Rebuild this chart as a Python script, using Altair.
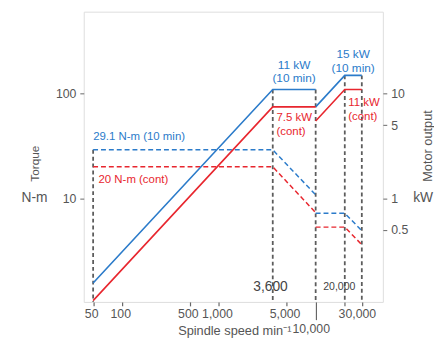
import altair as alt
import pandas as pd

# ---- data ----
speeds_low = [50, 3600, 10000]
speeds_high = [10000, 20000, 30000]

torque_10min_low = [29.1, 29.1, 10.8]
torque_10min_high = [7.2, 7.2, 4.9]
torque_cont_low = [20, 20, 7.3]
torque_cont_high = [5.3, 5.3, 3.6]

power_10min_low = [0.155, 11, 11]
power_10min_high = [7.5, 15, 15]
power_cont_low = [0.105, 7.5, 7.5]
power_cont_high = [5.5, 11, 11]

guide_speeds = [50, 3600, 10000, 20000, 30000]
guide_tops = [29.1, 110, 110, 150, 150]

x_tick_values = [50, 100, 500, 1000, 5000, 10000, 20000, 30000]
torque_ticks = [10, 100]
power_ticks = [0.5, 1, 5, 10]

# annotations (speed, torque-scale position, text, rating)
ann_center_speed = [5980, 5980, 24400, 24400]
ann_center_val = [190, 140.6, 241, 178]
ann_center_text = ["11 kW", "(10 min)", "15 kW", "(10 min)"]
ann_center_rating = ["10 min", "10 min", "10 min", "10 min"]

ann_left_speed = [3930, 3930, 21700, 21700, 50, 56.8]
ann_left_val = [59, 42.7, 81.7, 60.4, 38.3, 15.1]
ann_left_text = ["7.5 kW", "(cont)", "11 kW", "(cont)", "29.1 N-m (10 min)", "20 N-m (cont)"]
ann_left_rating = ["cont", "cont", "cont", "cont", "10 min", "cont"]

BLUE = "#2b7bca"
RED = "#e8262e"
BLUE_T = "#3a86cf"
RED_T = "#e8404f"
GRAY = "#555555"
FONT = "Liberation Sans"


def rows(speeds, vals, rating, seg):
    return [{"speed": s, "value": v, "rating": rating, "seg": seg} for s, v in zip(speeds, vals)]


torque_df = pd.DataFrame(
    rows(speeds_low, torque_10min_low, "10 min", "a")
    + rows(speeds_high, torque_10min_high, "10 min", "b")
    + rows(speeds_low, torque_cont_low, "cont", "a")
    + rows(speeds_high, torque_cont_high, "cont", "b")
)
power_df = pd.DataFrame(
    rows(speeds_low, power_10min_low, "10 min", "a")
    + rows(speeds_high, power_10min_high, "10 min", "b")
    + rows(speeds_low, power_cont_low, "cont", "a")
    + rows(speeds_high, power_cont_high, "cont", "b")
)
guide_df = pd.DataFrame({"speed": guide_speeds, "top": guide_tops, "bottom": [1.02] * len(guide_speeds)})
center_df = pd.DataFrame({"speed": ann_center_speed, "value": ann_center_val,
                          "text": ann_center_text, "rating": ann_center_rating})
left_df = pd.DataFrame({"speed": ann_left_speed, "value": ann_left_val,
                        "text": ann_left_text, "rating": ann_left_rating})
mark_df = pd.DataFrame({"speed": [3410, 17540], "value": [1.42, 1.42], "text": ["3,600", "20,000"],
                        "size": [14, 10.7]})
unit_df = pd.DataFrame({"value": [10], "left": ["N-m"], "right": ["kW"]})

x_scale = alt.Scale(type="log", domain=[40, 49500])
left_scale = alt.Scale(type="log", domain=[1.02, 610])
right_scale = alt.Scale(type="log", domain=[0.102, 61])
color_scale = alt.Scale(domain=["10 min", "cont"], range=[BLUE, RED])
text_color_scale = alt.Scale(domain=["10 min", "cont"], range=[BLUE_T, RED_T])

x_axis = alt.Axis(
    values=x_tick_values,
    labelExpr="datum.value == 20000 ? '' : format(datum.value, ',')",
    grid=False, domain=False,
    tickSize={"condition": {"test": "datum.value == 10000", "value": 18},
              "value": 4},
    labelPadding={"condition": {"test": "datum.value == 10000", "value": 3}, "value": 2},
    labelOffset={"condition": {"test": "datum.value >= 10000", "value": -5}, "value": -2},
    tickColor="#666", tickWidth=1.2,
    labelColor=GRAY, labelFontSize=12.5, labelFont=FONT,
    title="Spindle speed min⁻¹", titleFont=FONT, titleFontSize=13, titleFontWeight="normal",
    titleColor=GRAY, titleX=153, titleY=29, titleAlign="center", titleBaseline="middle",
)
left_axis = alt.Axis(
    values=torque_ticks, format="~g", grid=False, domain=False, tickSize=4,
    tickColor="#666", labelColor=GRAY, labelFontSize=12.5, labelFont=FONT, labelPadding=4,
    title="Torque", titleFont=FONT, titleFontSize=12, titleFontWeight="normal", titleColor=GRAY,
    titleAngle=270, titleX=-50, titleY=154, titleAlign="center", titleBaseline="middle",
)
right_axis = alt.Axis(
    orient="right", values=power_ticks, format="~g", grid=False, domain=False, tickSize=4,
    tickColor="#666", labelColor=GRAY, labelFontSize=12.5, labelFont=FONT, labelPadding=4,
    title="Motor output", titleFont=FONT, titleFontSize=13, titleFontWeight="normal", titleColor=GRAY,
    titleAngle=270, titleX=45, titleY=136, titleAlign="center", titleBaseline="middle",
)


def X():
    return alt.X("speed:Q", scale=x_scale, axis=x_axis)


def YL(field="value"):
    return alt.Y(f"{field}:Q", scale=left_scale, axis=left_axis)


torque_lines = alt.Chart(torque_df).mark_line(strokeDash=[5, 3], strokeWidth=1.5).encode(
    x=X(), y=YL(), color=alt.Color("rating:N", scale=color_scale, legend=None), detail="seg:N"
)
guides = alt.Chart(guide_df).mark_rule(color="#5c5c5c", strokeDash=[4, 3], strokeWidth=1.8).encode(
    x=X(), y=YL("top"), y2="bottom:Q"
)
center_text = alt.Chart(center_df).mark_text(font=FONT, fontSize=12, align="center", baseline="middle").encode(
    x=X(), y=YL(), text="text:N", color=alt.Color("rating:N", scale=text_color_scale, legend=None)
)
left_text = alt.Chart(left_df).mark_text(font=FONT, fontSize=11.6, align="left", baseline="middle").encode(
    x=X(), y=YL(), text="text:N", color=alt.Color("rating:N", scale=text_color_scale, legend=None)
)
mark_text = alt.Chart(mark_df).mark_text(font=FONT, align="center", baseline="middle", color="#444").encode(
    x=X(), y=YL(), text="text:N", size=alt.Size("size:Q", scale=None, legend=None)
)
unit_left = alt.Chart(unit_df).mark_text(font=FONT, fontSize=14, color=GRAY, align="center",
                                         baseline="middle").encode(
    x=alt.value(-50), y=YL(), text="left:N"
)
unit_right = alt.Chart(unit_df).mark_text(font=FONT, fontSize=14, color=GRAY, align="center",
                                          baseline="middle").encode(
    x=alt.value(345), y=YL(), text="right:N"
)

left_group = alt.layer(guides, torque_lines, center_text, left_text, mark_text, unit_left, unit_right)

power_lines = alt.Chart(power_df).mark_line(strokeWidth=1.6).encode(
    x=X(),
    y=alt.Y("value:Q", scale=right_scale, axis=right_axis),
    color=alt.Color("rating:N", scale=color_scale, legend=None),
    detail="seg:N",
)

chart = alt.layer(left_group, power_lines).resolve_scale(
    y="independent", color="independent"
).properties(
    width=304, height=295,
    padding={"left": 77, "top": 1, "right": 52, "bottom": 40},
    autosize=alt.AutoSizeParams(type="none"),
).configure_view(stroke="#777", strokeWidth=1.5).configure(background="white")

chart.save("out.html", embed_options={"renderer": "svg", "actions": False})
